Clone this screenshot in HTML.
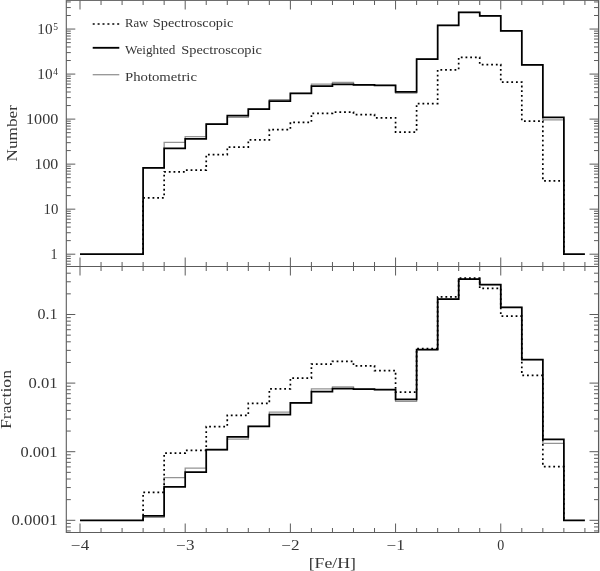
<!DOCTYPE html>
<html><head><meta charset="utf-8"><title>Metallicity distribution</title>
<style>
html,body{margin:0;padding:0;background:#fff;}
svg{display:block;}
text{font-family:"Liberation Serif",serif;fill:#363636;}
</style></head><body>
<svg width="600" height="571" viewBox="0 0 600 571">
<rect width="600" height="571" fill="#fff"/>
<line x1="66.30" y1="0.00" x2="66.30" y2="533.00" stroke="#5c5c5c" stroke-width="1.1"/>
<line x1="598.50" y1="0.00" x2="598.50" y2="533.00" stroke="#5c5c5c" stroke-width="1.05"/>
<line x1="66.30" y1="0.50" x2="598.50" y2="0.50" stroke="#6e6e6e" stroke-width="1"/>
<line x1="66.30" y1="532.50" x2="598.50" y2="532.50" stroke="#5c5c5c" stroke-width="1"/>
<rect x="599" y="0" width="1" height="533" fill="#d2d2d2"/>
<line x1="66.30" y1="266.50" x2="598.50" y2="266.50" stroke="#5c5c5c" stroke-width="1"/>
<line x1="80.00" y1="0.50" x2="80.00" y2="9.50" stroke="#5c5c5c" stroke-width="1"/>
<line x1="80.00" y1="257.50" x2="80.00" y2="275.50" stroke="#5c5c5c" stroke-width="1"/>
<line x1="80.00" y1="523.50" x2="80.00" y2="532.50" stroke="#5c5c5c" stroke-width="1"/>
<line x1="101.04" y1="0.50" x2="101.04" y2="5.00" stroke="#5c5c5c" stroke-width="1"/>
<line x1="101.04" y1="262.00" x2="101.04" y2="271.00" stroke="#5c5c5c" stroke-width="1"/>
<line x1="101.04" y1="528.00" x2="101.04" y2="532.50" stroke="#5c5c5c" stroke-width="1"/>
<line x1="122.08" y1="0.50" x2="122.08" y2="5.00" stroke="#5c5c5c" stroke-width="1"/>
<line x1="122.08" y1="262.00" x2="122.08" y2="271.00" stroke="#5c5c5c" stroke-width="1"/>
<line x1="122.08" y1="528.00" x2="122.08" y2="532.50" stroke="#5c5c5c" stroke-width="1"/>
<line x1="143.11" y1="0.50" x2="143.11" y2="5.00" stroke="#5c5c5c" stroke-width="1"/>
<line x1="143.11" y1="262.00" x2="143.11" y2="271.00" stroke="#5c5c5c" stroke-width="1"/>
<line x1="143.11" y1="528.00" x2="143.11" y2="532.50" stroke="#5c5c5c" stroke-width="1"/>
<line x1="164.15" y1="0.50" x2="164.15" y2="5.00" stroke="#5c5c5c" stroke-width="1"/>
<line x1="164.15" y1="262.00" x2="164.15" y2="271.00" stroke="#5c5c5c" stroke-width="1"/>
<line x1="164.15" y1="528.00" x2="164.15" y2="532.50" stroke="#5c5c5c" stroke-width="1"/>
<line x1="185.19" y1="0.50" x2="185.19" y2="9.50" stroke="#5c5c5c" stroke-width="1"/>
<line x1="185.19" y1="257.50" x2="185.19" y2="275.50" stroke="#5c5c5c" stroke-width="1"/>
<line x1="185.19" y1="523.50" x2="185.19" y2="532.50" stroke="#5c5c5c" stroke-width="1"/>
<line x1="206.23" y1="0.50" x2="206.23" y2="5.00" stroke="#5c5c5c" stroke-width="1"/>
<line x1="206.23" y1="262.00" x2="206.23" y2="271.00" stroke="#5c5c5c" stroke-width="1"/>
<line x1="206.23" y1="528.00" x2="206.23" y2="532.50" stroke="#5c5c5c" stroke-width="1"/>
<line x1="227.27" y1="0.50" x2="227.27" y2="5.00" stroke="#5c5c5c" stroke-width="1"/>
<line x1="227.27" y1="262.00" x2="227.27" y2="271.00" stroke="#5c5c5c" stroke-width="1"/>
<line x1="227.27" y1="528.00" x2="227.27" y2="532.50" stroke="#5c5c5c" stroke-width="1"/>
<line x1="248.30" y1="0.50" x2="248.30" y2="5.00" stroke="#5c5c5c" stroke-width="1"/>
<line x1="248.30" y1="262.00" x2="248.30" y2="271.00" stroke="#5c5c5c" stroke-width="1"/>
<line x1="248.30" y1="528.00" x2="248.30" y2="532.50" stroke="#5c5c5c" stroke-width="1"/>
<line x1="269.34" y1="0.50" x2="269.34" y2="5.00" stroke="#5c5c5c" stroke-width="1"/>
<line x1="269.34" y1="262.00" x2="269.34" y2="271.00" stroke="#5c5c5c" stroke-width="1"/>
<line x1="269.34" y1="528.00" x2="269.34" y2="532.50" stroke="#5c5c5c" stroke-width="1"/>
<line x1="290.38" y1="0.50" x2="290.38" y2="9.50" stroke="#5c5c5c" stroke-width="1"/>
<line x1="290.38" y1="257.50" x2="290.38" y2="275.50" stroke="#5c5c5c" stroke-width="1"/>
<line x1="290.38" y1="523.50" x2="290.38" y2="532.50" stroke="#5c5c5c" stroke-width="1"/>
<line x1="311.42" y1="0.50" x2="311.42" y2="5.00" stroke="#5c5c5c" stroke-width="1"/>
<line x1="311.42" y1="262.00" x2="311.42" y2="271.00" stroke="#5c5c5c" stroke-width="1"/>
<line x1="311.42" y1="528.00" x2="311.42" y2="532.50" stroke="#5c5c5c" stroke-width="1"/>
<line x1="332.46" y1="0.50" x2="332.46" y2="5.00" stroke="#5c5c5c" stroke-width="1"/>
<line x1="332.46" y1="262.00" x2="332.46" y2="271.00" stroke="#5c5c5c" stroke-width="1"/>
<line x1="332.46" y1="528.00" x2="332.46" y2="532.50" stroke="#5c5c5c" stroke-width="1"/>
<line x1="353.49" y1="0.50" x2="353.49" y2="5.00" stroke="#5c5c5c" stroke-width="1"/>
<line x1="353.49" y1="262.00" x2="353.49" y2="271.00" stroke="#5c5c5c" stroke-width="1"/>
<line x1="353.49" y1="528.00" x2="353.49" y2="532.50" stroke="#5c5c5c" stroke-width="1"/>
<line x1="374.53" y1="0.50" x2="374.53" y2="5.00" stroke="#5c5c5c" stroke-width="1"/>
<line x1="374.53" y1="262.00" x2="374.53" y2="271.00" stroke="#5c5c5c" stroke-width="1"/>
<line x1="374.53" y1="528.00" x2="374.53" y2="532.50" stroke="#5c5c5c" stroke-width="1"/>
<line x1="395.57" y1="0.50" x2="395.57" y2="9.50" stroke="#5c5c5c" stroke-width="1"/>
<line x1="395.57" y1="257.50" x2="395.57" y2="275.50" stroke="#5c5c5c" stroke-width="1"/>
<line x1="395.57" y1="523.50" x2="395.57" y2="532.50" stroke="#5c5c5c" stroke-width="1"/>
<line x1="416.61" y1="0.50" x2="416.61" y2="5.00" stroke="#5c5c5c" stroke-width="1"/>
<line x1="416.61" y1="262.00" x2="416.61" y2="271.00" stroke="#5c5c5c" stroke-width="1"/>
<line x1="416.61" y1="528.00" x2="416.61" y2="532.50" stroke="#5c5c5c" stroke-width="1"/>
<line x1="437.65" y1="0.50" x2="437.65" y2="5.00" stroke="#5c5c5c" stroke-width="1"/>
<line x1="437.65" y1="262.00" x2="437.65" y2="271.00" stroke="#5c5c5c" stroke-width="1"/>
<line x1="437.65" y1="528.00" x2="437.65" y2="532.50" stroke="#5c5c5c" stroke-width="1"/>
<line x1="458.68" y1="0.50" x2="458.68" y2="5.00" stroke="#5c5c5c" stroke-width="1"/>
<line x1="458.68" y1="262.00" x2="458.68" y2="271.00" stroke="#5c5c5c" stroke-width="1"/>
<line x1="458.68" y1="528.00" x2="458.68" y2="532.50" stroke="#5c5c5c" stroke-width="1"/>
<line x1="479.72" y1="0.50" x2="479.72" y2="5.00" stroke="#5c5c5c" stroke-width="1"/>
<line x1="479.72" y1="262.00" x2="479.72" y2="271.00" stroke="#5c5c5c" stroke-width="1"/>
<line x1="479.72" y1="528.00" x2="479.72" y2="532.50" stroke="#5c5c5c" stroke-width="1"/>
<line x1="500.76" y1="0.50" x2="500.76" y2="9.50" stroke="#5c5c5c" stroke-width="1"/>
<line x1="500.76" y1="257.50" x2="500.76" y2="275.50" stroke="#5c5c5c" stroke-width="1"/>
<line x1="500.76" y1="523.50" x2="500.76" y2="532.50" stroke="#5c5c5c" stroke-width="1"/>
<line x1="521.80" y1="0.50" x2="521.80" y2="5.00" stroke="#5c5c5c" stroke-width="1"/>
<line x1="521.80" y1="262.00" x2="521.80" y2="271.00" stroke="#5c5c5c" stroke-width="1"/>
<line x1="521.80" y1="528.00" x2="521.80" y2="532.50" stroke="#5c5c5c" stroke-width="1"/>
<line x1="542.84" y1="0.50" x2="542.84" y2="5.00" stroke="#5c5c5c" stroke-width="1"/>
<line x1="542.84" y1="262.00" x2="542.84" y2="271.00" stroke="#5c5c5c" stroke-width="1"/>
<line x1="542.84" y1="528.00" x2="542.84" y2="532.50" stroke="#5c5c5c" stroke-width="1"/>
<line x1="563.87" y1="0.50" x2="563.87" y2="5.00" stroke="#5c5c5c" stroke-width="1"/>
<line x1="563.87" y1="262.00" x2="563.87" y2="271.00" stroke="#5c5c5c" stroke-width="1"/>
<line x1="563.87" y1="528.00" x2="563.87" y2="532.50" stroke="#5c5c5c" stroke-width="1"/>
<line x1="584.91" y1="0.50" x2="584.91" y2="5.00" stroke="#5c5c5c" stroke-width="1"/>
<line x1="584.91" y1="262.00" x2="584.91" y2="271.00" stroke="#5c5c5c" stroke-width="1"/>
<line x1="584.91" y1="528.00" x2="584.91" y2="532.50" stroke="#5c5c5c" stroke-width="1"/>
<line x1="66.30" y1="264.19" x2="70.80" y2="264.19" stroke="#5c5c5c" stroke-width="1"/>
<line x1="594.00" y1="264.19" x2="598.50" y2="264.19" stroke="#5c5c5c" stroke-width="1"/>
<line x1="66.30" y1="261.18" x2="70.80" y2="261.18" stroke="#5c5c5c" stroke-width="1"/>
<line x1="594.00" y1="261.18" x2="598.50" y2="261.18" stroke="#5c5c5c" stroke-width="1"/>
<line x1="66.30" y1="258.56" x2="70.80" y2="258.56" stroke="#5c5c5c" stroke-width="1"/>
<line x1="594.00" y1="258.56" x2="598.50" y2="258.56" stroke="#5c5c5c" stroke-width="1"/>
<line x1="66.30" y1="256.26" x2="70.80" y2="256.26" stroke="#5c5c5c" stroke-width="1"/>
<line x1="594.00" y1="256.26" x2="598.50" y2="256.26" stroke="#5c5c5c" stroke-width="1"/>
<line x1="66.30" y1="254.20" x2="75.30" y2="254.20" stroke="#5c5c5c" stroke-width="1"/>
<line x1="589.50" y1="254.20" x2="598.50" y2="254.20" stroke="#5c5c5c" stroke-width="1"/>
<line x1="66.30" y1="240.64" x2="70.80" y2="240.64" stroke="#5c5c5c" stroke-width="1"/>
<line x1="594.00" y1="240.64" x2="598.50" y2="240.64" stroke="#5c5c5c" stroke-width="1"/>
<line x1="66.30" y1="232.72" x2="70.80" y2="232.72" stroke="#5c5c5c" stroke-width="1"/>
<line x1="594.00" y1="232.72" x2="598.50" y2="232.72" stroke="#5c5c5c" stroke-width="1"/>
<line x1="66.30" y1="227.09" x2="70.80" y2="227.09" stroke="#5c5c5c" stroke-width="1"/>
<line x1="594.00" y1="227.09" x2="598.50" y2="227.09" stroke="#5c5c5c" stroke-width="1"/>
<line x1="66.30" y1="222.73" x2="70.80" y2="222.73" stroke="#5c5c5c" stroke-width="1"/>
<line x1="594.00" y1="222.73" x2="598.50" y2="222.73" stroke="#5c5c5c" stroke-width="1"/>
<line x1="66.30" y1="219.16" x2="70.80" y2="219.16" stroke="#5c5c5c" stroke-width="1"/>
<line x1="594.00" y1="219.16" x2="598.50" y2="219.16" stroke="#5c5c5c" stroke-width="1"/>
<line x1="66.30" y1="216.15" x2="70.80" y2="216.15" stroke="#5c5c5c" stroke-width="1"/>
<line x1="594.00" y1="216.15" x2="598.50" y2="216.15" stroke="#5c5c5c" stroke-width="1"/>
<line x1="66.30" y1="213.53" x2="70.80" y2="213.53" stroke="#5c5c5c" stroke-width="1"/>
<line x1="594.00" y1="213.53" x2="598.50" y2="213.53" stroke="#5c5c5c" stroke-width="1"/>
<line x1="66.30" y1="211.23" x2="70.80" y2="211.23" stroke="#5c5c5c" stroke-width="1"/>
<line x1="594.00" y1="211.23" x2="598.50" y2="211.23" stroke="#5c5c5c" stroke-width="1"/>
<line x1="66.30" y1="209.17" x2="75.30" y2="209.17" stroke="#5c5c5c" stroke-width="1"/>
<line x1="589.50" y1="209.17" x2="598.50" y2="209.17" stroke="#5c5c5c" stroke-width="1"/>
<line x1="66.30" y1="195.61" x2="70.80" y2="195.61" stroke="#5c5c5c" stroke-width="1"/>
<line x1="594.00" y1="195.61" x2="598.50" y2="195.61" stroke="#5c5c5c" stroke-width="1"/>
<line x1="66.30" y1="187.69" x2="70.80" y2="187.69" stroke="#5c5c5c" stroke-width="1"/>
<line x1="594.00" y1="187.69" x2="598.50" y2="187.69" stroke="#5c5c5c" stroke-width="1"/>
<line x1="66.30" y1="182.06" x2="70.80" y2="182.06" stroke="#5c5c5c" stroke-width="1"/>
<line x1="594.00" y1="182.06" x2="598.50" y2="182.06" stroke="#5c5c5c" stroke-width="1"/>
<line x1="66.30" y1="177.70" x2="70.80" y2="177.70" stroke="#5c5c5c" stroke-width="1"/>
<line x1="594.00" y1="177.70" x2="598.50" y2="177.70" stroke="#5c5c5c" stroke-width="1"/>
<line x1="66.30" y1="174.13" x2="70.80" y2="174.13" stroke="#5c5c5c" stroke-width="1"/>
<line x1="594.00" y1="174.13" x2="598.50" y2="174.13" stroke="#5c5c5c" stroke-width="1"/>
<line x1="66.30" y1="171.12" x2="70.80" y2="171.12" stroke="#5c5c5c" stroke-width="1"/>
<line x1="594.00" y1="171.12" x2="598.50" y2="171.12" stroke="#5c5c5c" stroke-width="1"/>
<line x1="66.30" y1="168.50" x2="70.80" y2="168.50" stroke="#5c5c5c" stroke-width="1"/>
<line x1="594.00" y1="168.50" x2="598.50" y2="168.50" stroke="#5c5c5c" stroke-width="1"/>
<line x1="66.30" y1="166.20" x2="70.80" y2="166.20" stroke="#5c5c5c" stroke-width="1"/>
<line x1="594.00" y1="166.20" x2="598.50" y2="166.20" stroke="#5c5c5c" stroke-width="1"/>
<line x1="66.30" y1="164.14" x2="75.30" y2="164.14" stroke="#5c5c5c" stroke-width="1"/>
<line x1="589.50" y1="164.14" x2="598.50" y2="164.14" stroke="#5c5c5c" stroke-width="1"/>
<line x1="66.30" y1="150.58" x2="70.80" y2="150.58" stroke="#5c5c5c" stroke-width="1"/>
<line x1="594.00" y1="150.58" x2="598.50" y2="150.58" stroke="#5c5c5c" stroke-width="1"/>
<line x1="66.30" y1="142.66" x2="70.80" y2="142.66" stroke="#5c5c5c" stroke-width="1"/>
<line x1="594.00" y1="142.66" x2="598.50" y2="142.66" stroke="#5c5c5c" stroke-width="1"/>
<line x1="66.30" y1="137.03" x2="70.80" y2="137.03" stroke="#5c5c5c" stroke-width="1"/>
<line x1="594.00" y1="137.03" x2="598.50" y2="137.03" stroke="#5c5c5c" stroke-width="1"/>
<line x1="66.30" y1="132.67" x2="70.80" y2="132.67" stroke="#5c5c5c" stroke-width="1"/>
<line x1="594.00" y1="132.67" x2="598.50" y2="132.67" stroke="#5c5c5c" stroke-width="1"/>
<line x1="66.30" y1="129.10" x2="70.80" y2="129.10" stroke="#5c5c5c" stroke-width="1"/>
<line x1="594.00" y1="129.10" x2="598.50" y2="129.10" stroke="#5c5c5c" stroke-width="1"/>
<line x1="66.30" y1="126.09" x2="70.80" y2="126.09" stroke="#5c5c5c" stroke-width="1"/>
<line x1="594.00" y1="126.09" x2="598.50" y2="126.09" stroke="#5c5c5c" stroke-width="1"/>
<line x1="66.30" y1="123.47" x2="70.80" y2="123.47" stroke="#5c5c5c" stroke-width="1"/>
<line x1="594.00" y1="123.47" x2="598.50" y2="123.47" stroke="#5c5c5c" stroke-width="1"/>
<line x1="66.30" y1="121.17" x2="70.80" y2="121.17" stroke="#5c5c5c" stroke-width="1"/>
<line x1="594.00" y1="121.17" x2="598.50" y2="121.17" stroke="#5c5c5c" stroke-width="1"/>
<line x1="66.30" y1="119.11" x2="75.30" y2="119.11" stroke="#5c5c5c" stroke-width="1"/>
<line x1="589.50" y1="119.11" x2="598.50" y2="119.11" stroke="#5c5c5c" stroke-width="1"/>
<line x1="66.30" y1="105.55" x2="70.80" y2="105.55" stroke="#5c5c5c" stroke-width="1"/>
<line x1="594.00" y1="105.55" x2="598.50" y2="105.55" stroke="#5c5c5c" stroke-width="1"/>
<line x1="66.30" y1="97.63" x2="70.80" y2="97.63" stroke="#5c5c5c" stroke-width="1"/>
<line x1="594.00" y1="97.63" x2="598.50" y2="97.63" stroke="#5c5c5c" stroke-width="1"/>
<line x1="66.30" y1="92.00" x2="70.80" y2="92.00" stroke="#5c5c5c" stroke-width="1"/>
<line x1="594.00" y1="92.00" x2="598.50" y2="92.00" stroke="#5c5c5c" stroke-width="1"/>
<line x1="66.30" y1="87.64" x2="70.80" y2="87.64" stroke="#5c5c5c" stroke-width="1"/>
<line x1="594.00" y1="87.64" x2="598.50" y2="87.64" stroke="#5c5c5c" stroke-width="1"/>
<line x1="66.30" y1="84.07" x2="70.80" y2="84.07" stroke="#5c5c5c" stroke-width="1"/>
<line x1="594.00" y1="84.07" x2="598.50" y2="84.07" stroke="#5c5c5c" stroke-width="1"/>
<line x1="66.30" y1="81.06" x2="70.80" y2="81.06" stroke="#5c5c5c" stroke-width="1"/>
<line x1="594.00" y1="81.06" x2="598.50" y2="81.06" stroke="#5c5c5c" stroke-width="1"/>
<line x1="66.30" y1="78.44" x2="70.80" y2="78.44" stroke="#5c5c5c" stroke-width="1"/>
<line x1="594.00" y1="78.44" x2="598.50" y2="78.44" stroke="#5c5c5c" stroke-width="1"/>
<line x1="66.30" y1="76.14" x2="70.80" y2="76.14" stroke="#5c5c5c" stroke-width="1"/>
<line x1="594.00" y1="76.14" x2="598.50" y2="76.14" stroke="#5c5c5c" stroke-width="1"/>
<line x1="66.30" y1="74.08" x2="75.30" y2="74.08" stroke="#5c5c5c" stroke-width="1"/>
<line x1="589.50" y1="74.08" x2="598.50" y2="74.08" stroke="#5c5c5c" stroke-width="1"/>
<line x1="66.30" y1="60.52" x2="70.80" y2="60.52" stroke="#5c5c5c" stroke-width="1"/>
<line x1="594.00" y1="60.52" x2="598.50" y2="60.52" stroke="#5c5c5c" stroke-width="1"/>
<line x1="66.30" y1="52.60" x2="70.80" y2="52.60" stroke="#5c5c5c" stroke-width="1"/>
<line x1="594.00" y1="52.60" x2="598.50" y2="52.60" stroke="#5c5c5c" stroke-width="1"/>
<line x1="66.30" y1="46.97" x2="70.80" y2="46.97" stroke="#5c5c5c" stroke-width="1"/>
<line x1="594.00" y1="46.97" x2="598.50" y2="46.97" stroke="#5c5c5c" stroke-width="1"/>
<line x1="66.30" y1="42.61" x2="70.80" y2="42.61" stroke="#5c5c5c" stroke-width="1"/>
<line x1="594.00" y1="42.61" x2="598.50" y2="42.61" stroke="#5c5c5c" stroke-width="1"/>
<line x1="66.30" y1="39.04" x2="70.80" y2="39.04" stroke="#5c5c5c" stroke-width="1"/>
<line x1="594.00" y1="39.04" x2="598.50" y2="39.04" stroke="#5c5c5c" stroke-width="1"/>
<line x1="66.30" y1="36.03" x2="70.80" y2="36.03" stroke="#5c5c5c" stroke-width="1"/>
<line x1="594.00" y1="36.03" x2="598.50" y2="36.03" stroke="#5c5c5c" stroke-width="1"/>
<line x1="66.30" y1="33.41" x2="70.80" y2="33.41" stroke="#5c5c5c" stroke-width="1"/>
<line x1="594.00" y1="33.41" x2="598.50" y2="33.41" stroke="#5c5c5c" stroke-width="1"/>
<line x1="66.30" y1="31.11" x2="70.80" y2="31.11" stroke="#5c5c5c" stroke-width="1"/>
<line x1="594.00" y1="31.11" x2="598.50" y2="31.11" stroke="#5c5c5c" stroke-width="1"/>
<line x1="66.30" y1="29.05" x2="75.30" y2="29.05" stroke="#5c5c5c" stroke-width="1"/>
<line x1="589.50" y1="29.05" x2="598.50" y2="29.05" stroke="#5c5c5c" stroke-width="1"/>
<line x1="66.30" y1="15.49" x2="70.80" y2="15.49" stroke="#5c5c5c" stroke-width="1"/>
<line x1="594.00" y1="15.49" x2="598.50" y2="15.49" stroke="#5c5c5c" stroke-width="1"/>
<line x1="66.30" y1="7.57" x2="70.80" y2="7.57" stroke="#5c5c5c" stroke-width="1"/>
<line x1="594.00" y1="7.57" x2="598.50" y2="7.57" stroke="#5c5c5c" stroke-width="1"/>
<line x1="66.30" y1="1.94" x2="70.80" y2="1.94" stroke="#5c5c5c" stroke-width="1"/>
<line x1="594.00" y1="1.94" x2="598.50" y2="1.94" stroke="#5c5c5c" stroke-width="1"/>
<line x1="66.30" y1="530.93" x2="70.80" y2="530.93" stroke="#5c5c5c" stroke-width="1"/>
<line x1="594.00" y1="530.93" x2="598.50" y2="530.93" stroke="#5c5c5c" stroke-width="1"/>
<line x1="66.30" y1="526.95" x2="70.80" y2="526.95" stroke="#5c5c5c" stroke-width="1"/>
<line x1="594.00" y1="526.95" x2="598.50" y2="526.95" stroke="#5c5c5c" stroke-width="1"/>
<line x1="66.30" y1="523.44" x2="70.80" y2="523.44" stroke="#5c5c5c" stroke-width="1"/>
<line x1="594.00" y1="523.44" x2="598.50" y2="523.44" stroke="#5c5c5c" stroke-width="1"/>
<line x1="66.30" y1="520.30" x2="75.30" y2="520.30" stroke="#5c5c5c" stroke-width="1"/>
<line x1="589.50" y1="520.30" x2="598.50" y2="520.30" stroke="#5c5c5c" stroke-width="1"/>
<line x1="66.30" y1="499.65" x2="70.80" y2="499.65" stroke="#5c5c5c" stroke-width="1"/>
<line x1="594.00" y1="499.65" x2="598.50" y2="499.65" stroke="#5c5c5c" stroke-width="1"/>
<line x1="66.30" y1="487.57" x2="70.80" y2="487.57" stroke="#5c5c5c" stroke-width="1"/>
<line x1="594.00" y1="487.57" x2="598.50" y2="487.57" stroke="#5c5c5c" stroke-width="1"/>
<line x1="66.30" y1="479.00" x2="70.80" y2="479.00" stroke="#5c5c5c" stroke-width="1"/>
<line x1="594.00" y1="479.00" x2="598.50" y2="479.00" stroke="#5c5c5c" stroke-width="1"/>
<line x1="66.30" y1="472.35" x2="70.80" y2="472.35" stroke="#5c5c5c" stroke-width="1"/>
<line x1="594.00" y1="472.35" x2="598.50" y2="472.35" stroke="#5c5c5c" stroke-width="1"/>
<line x1="66.30" y1="466.92" x2="70.80" y2="466.92" stroke="#5c5c5c" stroke-width="1"/>
<line x1="594.00" y1="466.92" x2="598.50" y2="466.92" stroke="#5c5c5c" stroke-width="1"/>
<line x1="66.30" y1="462.33" x2="70.80" y2="462.33" stroke="#5c5c5c" stroke-width="1"/>
<line x1="594.00" y1="462.33" x2="598.50" y2="462.33" stroke="#5c5c5c" stroke-width="1"/>
<line x1="66.30" y1="458.35" x2="70.80" y2="458.35" stroke="#5c5c5c" stroke-width="1"/>
<line x1="594.00" y1="458.35" x2="598.50" y2="458.35" stroke="#5c5c5c" stroke-width="1"/>
<line x1="66.30" y1="454.84" x2="70.80" y2="454.84" stroke="#5c5c5c" stroke-width="1"/>
<line x1="594.00" y1="454.84" x2="598.50" y2="454.84" stroke="#5c5c5c" stroke-width="1"/>
<line x1="66.30" y1="451.70" x2="75.30" y2="451.70" stroke="#5c5c5c" stroke-width="1"/>
<line x1="589.50" y1="451.70" x2="598.50" y2="451.70" stroke="#5c5c5c" stroke-width="1"/>
<line x1="66.30" y1="431.05" x2="70.80" y2="431.05" stroke="#5c5c5c" stroke-width="1"/>
<line x1="594.00" y1="431.05" x2="598.50" y2="431.05" stroke="#5c5c5c" stroke-width="1"/>
<line x1="66.30" y1="418.97" x2="70.80" y2="418.97" stroke="#5c5c5c" stroke-width="1"/>
<line x1="594.00" y1="418.97" x2="598.50" y2="418.97" stroke="#5c5c5c" stroke-width="1"/>
<line x1="66.30" y1="410.40" x2="70.80" y2="410.40" stroke="#5c5c5c" stroke-width="1"/>
<line x1="594.00" y1="410.40" x2="598.50" y2="410.40" stroke="#5c5c5c" stroke-width="1"/>
<line x1="66.30" y1="403.75" x2="70.80" y2="403.75" stroke="#5c5c5c" stroke-width="1"/>
<line x1="594.00" y1="403.75" x2="598.50" y2="403.75" stroke="#5c5c5c" stroke-width="1"/>
<line x1="66.30" y1="398.32" x2="70.80" y2="398.32" stroke="#5c5c5c" stroke-width="1"/>
<line x1="594.00" y1="398.32" x2="598.50" y2="398.32" stroke="#5c5c5c" stroke-width="1"/>
<line x1="66.30" y1="393.73" x2="70.80" y2="393.73" stroke="#5c5c5c" stroke-width="1"/>
<line x1="594.00" y1="393.73" x2="598.50" y2="393.73" stroke="#5c5c5c" stroke-width="1"/>
<line x1="66.30" y1="389.75" x2="70.80" y2="389.75" stroke="#5c5c5c" stroke-width="1"/>
<line x1="594.00" y1="389.75" x2="598.50" y2="389.75" stroke="#5c5c5c" stroke-width="1"/>
<line x1="66.30" y1="386.24" x2="70.80" y2="386.24" stroke="#5c5c5c" stroke-width="1"/>
<line x1="594.00" y1="386.24" x2="598.50" y2="386.24" stroke="#5c5c5c" stroke-width="1"/>
<line x1="66.30" y1="383.10" x2="75.30" y2="383.10" stroke="#5c5c5c" stroke-width="1"/>
<line x1="589.50" y1="383.10" x2="598.50" y2="383.10" stroke="#5c5c5c" stroke-width="1"/>
<line x1="66.30" y1="362.45" x2="70.80" y2="362.45" stroke="#5c5c5c" stroke-width="1"/>
<line x1="594.00" y1="362.45" x2="598.50" y2="362.45" stroke="#5c5c5c" stroke-width="1"/>
<line x1="66.30" y1="350.37" x2="70.80" y2="350.37" stroke="#5c5c5c" stroke-width="1"/>
<line x1="594.00" y1="350.37" x2="598.50" y2="350.37" stroke="#5c5c5c" stroke-width="1"/>
<line x1="66.30" y1="341.80" x2="70.80" y2="341.80" stroke="#5c5c5c" stroke-width="1"/>
<line x1="594.00" y1="341.80" x2="598.50" y2="341.80" stroke="#5c5c5c" stroke-width="1"/>
<line x1="66.30" y1="335.15" x2="70.80" y2="335.15" stroke="#5c5c5c" stroke-width="1"/>
<line x1="594.00" y1="335.15" x2="598.50" y2="335.15" stroke="#5c5c5c" stroke-width="1"/>
<line x1="66.30" y1="329.72" x2="70.80" y2="329.72" stroke="#5c5c5c" stroke-width="1"/>
<line x1="594.00" y1="329.72" x2="598.50" y2="329.72" stroke="#5c5c5c" stroke-width="1"/>
<line x1="66.30" y1="325.13" x2="70.80" y2="325.13" stroke="#5c5c5c" stroke-width="1"/>
<line x1="594.00" y1="325.13" x2="598.50" y2="325.13" stroke="#5c5c5c" stroke-width="1"/>
<line x1="66.30" y1="321.15" x2="70.80" y2="321.15" stroke="#5c5c5c" stroke-width="1"/>
<line x1="594.00" y1="321.15" x2="598.50" y2="321.15" stroke="#5c5c5c" stroke-width="1"/>
<line x1="66.30" y1="317.64" x2="70.80" y2="317.64" stroke="#5c5c5c" stroke-width="1"/>
<line x1="594.00" y1="317.64" x2="598.50" y2="317.64" stroke="#5c5c5c" stroke-width="1"/>
<line x1="66.30" y1="314.50" x2="75.30" y2="314.50" stroke="#5c5c5c" stroke-width="1"/>
<line x1="589.50" y1="314.50" x2="598.50" y2="314.50" stroke="#5c5c5c" stroke-width="1"/>
<line x1="66.30" y1="293.85" x2="70.80" y2="293.85" stroke="#5c5c5c" stroke-width="1"/>
<line x1="594.00" y1="293.85" x2="598.50" y2="293.85" stroke="#5c5c5c" stroke-width="1"/>
<line x1="66.30" y1="281.77" x2="70.80" y2="281.77" stroke="#5c5c5c" stroke-width="1"/>
<line x1="594.00" y1="281.77" x2="598.50" y2="281.77" stroke="#5c5c5c" stroke-width="1"/>
<line x1="66.30" y1="273.20" x2="70.80" y2="273.20" stroke="#5c5c5c" stroke-width="1"/>
<line x1="594.00" y1="273.20" x2="598.50" y2="273.20" stroke="#5c5c5c" stroke-width="1"/>
<path d="M143.11,254.20 L143.11,167.80 L164.15,167.80 L164.15,142.30 L185.19,142.30 L185.19,136.55 L206.23,136.55 L206.23,124.05 L227.27,124.05 L227.27,117.30 L248.30,117.30 L248.30,109.05 L269.34,109.05 L269.34,99.60 L290.38,99.60 L290.38,93.30 L311.42,93.30 L311.42,84.10 L332.46,84.10 L332.46,82.50 L353.49,82.50 L353.49,84.80 L374.53,84.80 L374.53,85.30 L395.57,85.30 L395.57,93.20 L416.61,93.20 L416.61,59.05 L437.65,59.05 L437.65,25.30 L458.68,25.30 L458.68,12.30 L479.72,12.30 L479.72,15.80 L500.76,15.80 L500.76,30.80 L521.80,30.80 L521.80,64.80 L542.84,64.80 L542.84,119.80 L563.87,119.80 L563.87,254.20" fill="none" stroke="#949494" stroke-width="1.3" stroke-linejoin="miter"/>
<path d="M143.11,254.20 L143.11,197.80 L164.15,197.80 L164.15,171.80 L185.19,171.80 L185.19,170.10 L206.23,170.10 L206.23,154.55 L227.27,154.55 L227.27,147.05 L248.30,147.05 L248.30,139.80 L269.34,139.80 L269.34,129.55 L290.38,129.55 L290.38,122.30 L311.42,122.30 L311.42,113.30 L332.46,113.30 L332.46,112.05 L353.49,112.05 L353.49,114.55 L374.53,114.55 L374.53,117.80 L395.57,117.80 L395.57,132.05 L416.61,132.05 L416.61,103.55 L437.65,103.55 L437.65,69.80 L458.68,69.80 L458.68,57.30 L479.72,57.30 L479.72,64.55 L500.76,64.55 L500.76,82.05 L521.80,82.05 L521.80,121.05 L542.84,121.05 L542.84,180.80 L563.87,180.80 L563.87,254.20" fill="none" stroke="#000" stroke-width="1.7" stroke-linejoin="miter" stroke-dasharray="1.8 2.9"/>
<path d="M80.00,254.20 L143.11,254.20 L143.11,167.80 L164.15,167.80 L164.15,148.30 L185.19,148.30 L185.19,138.80 L206.23,138.80 L206.23,124.05 L227.27,124.05 L227.27,115.55 L248.30,115.55 L248.30,109.05 L269.34,109.05 L269.34,101.20 L290.38,101.20 L290.38,93.40 L311.42,93.40 L311.42,86.05 L332.46,86.05 L332.46,84.30 L353.49,84.30 L353.49,84.80 L374.53,84.80 L374.53,85.30 L395.57,85.30 L395.57,91.80 L416.61,91.80 L416.61,59.05 L437.65,59.05 L437.65,25.30 L458.68,25.30 L458.68,12.30 L479.72,12.30 L479.72,15.80 L500.76,15.80 L500.76,30.80 L521.80,30.80 L521.80,64.80 L542.84,64.80 L542.84,117.30 L563.87,117.30 L563.87,254.20 L584.91,254.20" fill="none" stroke="#000" stroke-width="1.7" stroke-linejoin="miter"/>
<path d="M143.11,520.30 L143.11,517.30 L164.15,517.30 L164.15,477.55 L185.19,477.55 L185.19,468.05 L206.23,468.05 L206.23,449.90 L227.27,449.90 L227.27,439.05 L248.30,439.05 L248.30,426.40 L269.34,426.40 L269.34,412.05 L290.38,412.05 L290.38,402.80 L311.42,402.80 L311.42,388.80 L332.46,388.80 L332.46,386.80 L353.49,386.80 L353.49,389.05 L374.53,389.05 L374.53,389.70 L395.57,389.70 L395.57,401.30 L416.61,401.30 L416.61,349.55 L437.65,349.55 L437.65,299.05 L458.68,299.05 L458.68,279.05 L479.72,279.05 L479.72,284.55 L500.76,284.55 L500.76,307.30 L521.80,307.30 L521.80,359.55 L542.84,359.55 L542.84,443.30 L563.87,443.30 L563.87,520.30" fill="none" stroke="#949494" stroke-width="1.3" stroke-linejoin="miter"/>
<path d="M143.11,520.30 L143.11,492.30 L164.15,492.30 L164.15,453.05 L185.19,453.05 L185.19,450.30 L206.23,450.30 L206.23,426.55 L227.27,426.55 L227.27,415.30 L248.30,415.30 L248.30,403.40 L269.34,403.40 L269.34,388.80 L290.38,388.80 L290.38,378.05 L311.42,378.05 L311.42,364.05 L332.46,364.05 L332.46,361.30 L353.49,361.30 L353.49,365.80 L374.53,365.80 L374.53,370.55 L395.57,370.55 L395.57,392.20 L416.61,392.20 L416.61,348.55 L437.65,348.55 L437.65,296.90 L458.68,296.90 L458.68,278.20 L479.72,278.20 L479.72,288.40 L500.76,288.40 L500.76,316.20 L521.80,316.20 L521.80,375.30 L542.84,375.30 L542.84,466.55 L563.87,466.55 L563.87,520.30" fill="none" stroke="#000" stroke-width="1.7" stroke-linejoin="miter" stroke-dasharray="1.8 2.9"/>
<path d="M80.00,520.30 L143.11,520.30 L143.11,515.80 L164.15,515.80 L164.15,486.80 L185.19,486.80 L185.19,472.05 L206.23,472.05 L206.23,449.55 L227.27,449.55 L227.27,436.80 L248.30,436.80 L248.30,426.40 L269.34,426.40 L269.34,414.70 L290.38,414.70 L290.38,402.80 L311.42,402.80 L311.42,391.55 L332.46,391.55 L332.46,388.55 L353.49,388.55 L353.49,389.05 L374.53,389.05 L374.53,389.70 L395.57,389.70 L395.57,399.30 L416.61,399.30 L416.61,349.55 L437.65,349.55 L437.65,299.05 L458.68,299.05 L458.68,279.05 L479.72,279.05 L479.72,284.55 L500.76,284.55 L500.76,307.30 L521.80,307.30 L521.80,359.55 L542.84,359.55 L542.84,439.40 L563.87,439.40 L563.87,520.30 L584.91,520.30" fill="none" stroke="#000" stroke-width="1.7" stroke-linejoin="miter"/>
<path d="M92.7,24 H119.5" fill="none" stroke="#000" stroke-width="1.6" stroke-dasharray="2 2.9"/>
<path d="M92.7,47.8 H119.3" fill="none" stroke="#000" stroke-width="1.85"/>
<path d="M92.7,74.7 H119.3" fill="none" stroke="#949494" stroke-width="1.3"/>
<text x="125" y="26.9" font-size="12" text-anchor="start" textLength="23.3" lengthAdjust="spacingAndGlyphs">Raw</text>
<text x="152.8" y="26.9" font-size="12" text-anchor="start" textLength="80.6" lengthAdjust="spacingAndGlyphs">Spectroscopic</text>
<text x="125" y="53.9" font-size="12" text-anchor="start" textLength="50.3" lengthAdjust="spacingAndGlyphs">Weighted</text>
<text x="181.3" y="53.9" font-size="12" text-anchor="start" textLength="80.6" lengthAdjust="spacingAndGlyphs">Spectroscopic</text>
<text x="125" y="80.7" font-size="12" text-anchor="start" textLength="72" lengthAdjust="spacingAndGlyphs">Photometric</text>
<text x="57.5" y="259.05" font-size="14" text-anchor="end">1</text>
<text x="58.3" y="214.01999999999998" font-size="14" text-anchor="end" textLength="14.8" lengthAdjust="spacingAndGlyphs">10</text>
<text x="58.3" y="168.98999999999998" font-size="14" text-anchor="end" textLength="23.8" lengthAdjust="spacingAndGlyphs">100</text>
<text x="58.3" y="123.95999999999998" font-size="14" text-anchor="end" textLength="32.3" lengthAdjust="spacingAndGlyphs">1000</text>
<text x="37.3" y="78.97999999999999" font-size="14" textLength="15.2" lengthAdjust="spacingAndGlyphs">10</text>
<text x="53.2" y="74.57999999999998" font-size="9.5">4</text>
<text x="37.3" y="33.94999999999998" font-size="14" textLength="15.2" lengthAdjust="spacingAndGlyphs">10</text>
<text x="53.2" y="29.549999999999983" font-size="9.5">5</text>
<text x="57.5" y="525.15" font-size="14" text-anchor="end" textLength="46" lengthAdjust="spacingAndGlyphs">0.0001</text>
<text x="57.5" y="456.54999999999995" font-size="14" text-anchor="end" textLength="37" lengthAdjust="spacingAndGlyphs">0.001</text>
<text x="57.5" y="387.95" font-size="14" text-anchor="end" textLength="29" lengthAdjust="spacingAndGlyphs">0.01</text>
<text x="57.5" y="319.35" font-size="14" text-anchor="end" textLength="20" lengthAdjust="spacingAndGlyphs">0.1</text>
<text x="80.2" y="549.6" font-size="14" text-anchor="middle" textLength="18.2" lengthAdjust="spacingAndGlyphs">−4</text>
<text x="185.39" y="549.6" font-size="14" text-anchor="middle" textLength="18.2" lengthAdjust="spacingAndGlyphs">−3</text>
<text x="290.58" y="549.6" font-size="14" text-anchor="middle" textLength="18.2" lengthAdjust="spacingAndGlyphs">−2</text>
<text x="395.77" y="549.6" font-size="14" text-anchor="middle" textLength="18.2" lengthAdjust="spacingAndGlyphs">−1</text>
<text x="500.76" y="549.6" font-size="14" text-anchor="middle">0</text>
<text x="332.3" y="568" font-size="15" text-anchor="middle" textLength="47.3" lengthAdjust="spacingAndGlyphs">[Fe/H]</text>
<text transform="translate(17.3,133.3) rotate(-90)" font-size="15" text-anchor="middle" textLength="56.3" lengthAdjust="spacingAndGlyphs">Number</text>
<text transform="translate(10.6,399.5) rotate(-90)" font-size="15" text-anchor="middle" textLength="59" lengthAdjust="spacingAndGlyphs">Fraction</text>
</svg>
</body></html>
